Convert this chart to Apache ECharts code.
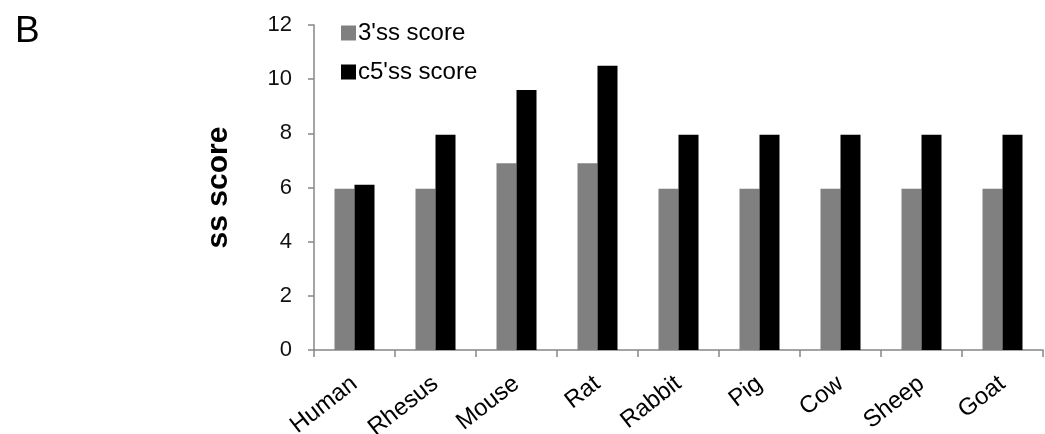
<!DOCTYPE html>
<html><head><meta charset="utf-8">
<script src="https://cdn.jsdelivr.net/npm/echarts@6/dist/echarts.min.js"></script>
<style>html,body{margin:0;padding:0;background:#fff}#c{width:1045px;height:434px}</style>
</head><body><div id="c"></div>
<script>
var categories = ['Human','Rhesus','Mouse','Rat','Rabbit','Pig','Cow','Sheep','Goat'];
var ss3 = [5.95, 5.95, 6.9, 6.9, 5.95, 5.95, 5.95, 5.95, 5.95];
var c5ss = [6.1, 7.95, 9.6, 10.5, 7.95, 7.95, 7.95, 7.95, 7.95];
var seriesNames = ["3'ss score", "c5'ss score"];
var yTicks = {min: 0, max: 12, interval: 2};

var chart = echarts.init(document.getElementById('c'));
var axisColor = '#868686';
chart.setOption({
  animation: false,
  textStyle: {fontFamily: 'Liberation Sans, Arial, sans-serif'},
  title: {text: 'B', left: 10, top: 8, textStyle: {fontSize: 37, fontWeight: 'normal', color: '#000'}},
  grid: {left: 314, right: 2, top: 25, bottom: 84, outerBoundsMode: 'none', containLabel: false},
  legend: {
    orient: 'vertical', left: 336, top: 16, itemGap: 15,
    itemWidth: 15, itemHeight: 15, icon: 'rect',
    textStyle: {fontSize: 24, color: '#000', padding: [0,0,0,-3]},
    data: seriesNames
  },
  xAxis: {
    type: 'category', data: categories,
    axisLine: {lineStyle: {color: axisColor, width: 1.5}},
    axisTick: {show: true, length: 7, alignWithLabel: false, lineStyle: {color: axisColor, width: 1.5}},
    axisLabel: {rotate: 38, fontSize: 24, color: '#000', margin: 31, interval: 0}
  },
  yAxis: {
    type: 'value', min: yTicks.min, max: yTicks.max, interval: yTicks.interval,
    name: 'ss score', nameLocation: 'middle', nameGap: 80, nameRotate: 90,
    nameTextStyle: {fontSize: 30, fontWeight: 'bold', color: '#000'},
    axisLine: {show: true, lineStyle: {color: axisColor, width: 1.5}},
    axisTick: {show: true, length: 6, lineStyle: {color: axisColor, width: 1.5}},
    splitLine: {show: false},
    axisLabel: {fontSize: 22, color: '#111', margin: 22}
  },
  series: [
    {name: seriesNames[0], type: 'bar', data: ss3, barWidth: 20, barGap: '0%', itemStyle: {color: '#808080'}},
    {name: seriesNames[1], type: 'bar', data: c5ss, barWidth: 20, barGap: '0%', itemStyle: {color: '#000000'}}
  ]
});
</script></body></html>
